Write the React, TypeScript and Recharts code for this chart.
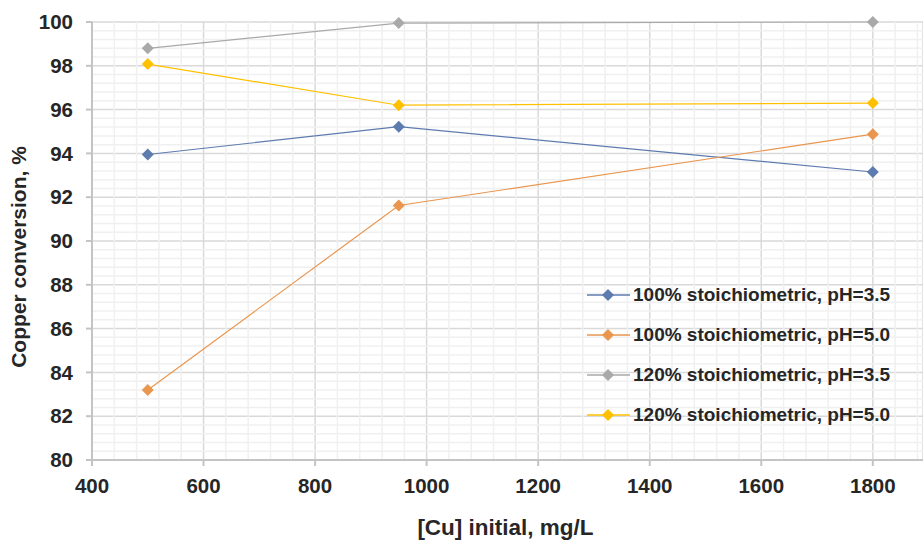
import { LineChart, Line, XAxis, YAxis, CartesianGrid, ReferenceLine, Label } from "recharts";

const cuInitial = [500, 950, 1800];
const s100pH35 = [93.95, 95.22, 93.15];
const s100pH50 = [83.2, 91.62, 94.88];
const s120pH35 = [98.8, 99.95, 100.0];
const s120pH50 = [98.08, 96.2, 96.3];

const xTicks = [400, 600, 800, 1000, 1200, 1400, 1600, 1800];
const yTicks = [80, 82, 84, 86, 88, 90, 92, 94, 96, 98, 100];

const series = [
  { key: "a", name: "100% stoichiometric, pH=3.5", color: "#5E7BAF", values: s100pH35 },
  { key: "b", name: "100% stoichiometric, pH=5.0", color: "#E9964F", values: s100pH50 },
  { key: "c", name: "120% stoichiometric, pH=3.5", color: "#A9A9A9", values: s120pH35 },
  { key: "d", name: "120% stoichiometric, pH=5.0", color: "#FFC000", values: s120pH50 },
];

const data = cuInitial.map((x, i) => {
  const row: Record<string, number> = { x };
  series.forEach((s) => (row[s.key] = s.values[i]));
  return row;
});

// minor grid: every 40 on x, every 0.4 on y
const minorX: number[] = [];
for (let i = 1; i * 40 + 400 < 1890; i++) if (i % 5 !== 0) minorX.push(400 + i * 40);
const minorY: number[] = [];
for (let i = 1; i < 50; i++) if (i % 5 !== 0) minorY.push(80 + i * 0.4);

const font = "'Liberation Sans', Arial, sans-serif";
const ink = "#262626";

const diamond = (color: string) => (p: any) => {
  const { cx, cy, index } = p;
  if (cx == null || cy == null) return <g key={index} />;
  return (
    <path
      key={index}
      d={`M${cx},${cy - 6}L${cx + 6},${cy}L${cx},${cy + 6}L${cx - 6},${cy}Z`}
      fill={color}
    />
  );
};

const LegendBox = () => (
  <div
    style={{
      position: "absolute",
      left: 587,
      top: 275,
      fontFamily: font,
      fontWeight: "bold",
      fontSize: 19,
      color: ink,
    }}
  >
    {series.map((s) => (
      <div key={s.key} style={{ display: "flex", alignItems: "center", height: 40 }}>
        <svg width={46} height={14} style={{ marginRight: 0 }}>
          <line x1={0} y1={7} x2={43} y2={7} stroke={s.color} strokeWidth={1.5} />
          <path d="M21,1L27,7L21,13L15,7Z" fill={s.color} />
        </svg>
        <span style={{ whiteSpace: "nowrap" }}>{s.name}</span>
      </div>
    ))}
  </div>
);

export default function App() {
  return (
    <div style={{ position: "absolute", left: 0, top: 0, width: 923, height: 545, background: "#fff" }}>
      <LineChart width={923} height={545} data={data} margin={{ top: 22, right: 0, bottom: 0, left: 0 }}>
        {minorX.map((v) => (
          <ReferenceLine key={"mx" + v} x={v} stroke="#f0f0f0" strokeWidth={1.5} />
        ))}
        {minorY.map((v) => (
          <ReferenceLine key={"my" + v} y={v} stroke="#f0f0f0" strokeWidth={1.5} />
        ))}
        <CartesianGrid stroke="#d9d9d9" strokeWidth={1.5} />
        <XAxis
          dataKey="x"
          type="number"
          domain={[400, 1890]}
          ticks={xTicks}
          interval={0}
          allowDataOverflow
          height={85}
          tickSize={6}
          tickMargin={12}
          stroke="#c4c4c4"
          strokeWidth={2}
          tick={{ fill: ink, fontSize: 20.5, fontWeight: "bold", fontFamily: font }}
        >
          <Label
            value="[Cu] initial, mg/L"
            position="center"
            dy={25}
            dx={-2}
            style={{ fill: ink, fontSize: 22.5, fontWeight: "bold", fontFamily: font }}
          />
        </XAxis>
        <YAxis
          type="number"
          domain={[80, 100]}
          ticks={yTicks}
          interval={0}
          width={92}
          tickSize={6}
          tickMargin={13}
          stroke="#c4c4c4"
          strokeWidth={2}
          tick={{ fill: ink, fontSize: 20.5, fontWeight: "bold", fontFamily: font }}
        >
          <Label
            value="Copper conversion, %"
            angle={-90}
            position="center"
            dx={-27}
            dy={16}
            style={{ fill: ink, fontSize: 21, fontWeight: "bold", fontFamily: font, textAnchor: "middle" }}
          />
        </YAxis>
        {series.map((s) => (
          <Line
            key={s.key}
            dataKey={s.key}
            name={s.name}
            stroke={s.color}
            strokeWidth={1.2}
            dot={diamond(s.color)}
            activeDot={false}
            isAnimationActive={false}
          />
        ))}
      </LineChart>
      <LegendBox />
    </div>
  );
}
